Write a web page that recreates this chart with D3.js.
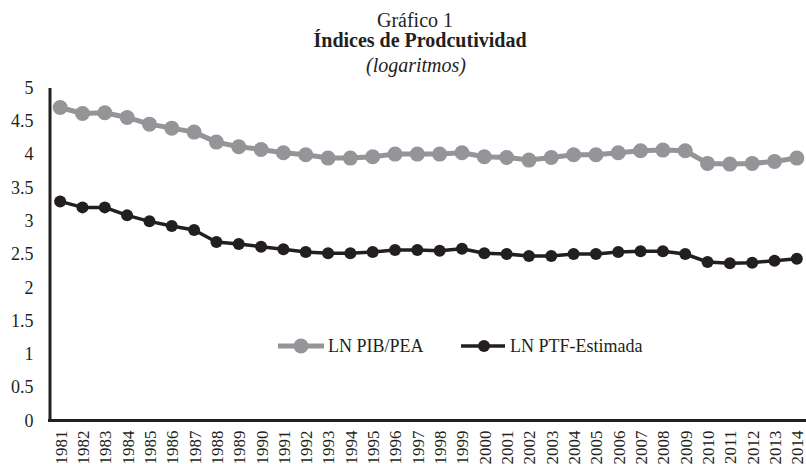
<!DOCTYPE html>
<html>
<head>
<meta charset="utf-8">
<script src="https://cdn.jsdelivr.net/npm/d3@7"></script>
<style>
  html, body { margin: 0; padding: 0; background: #fff; }
  svg { display: block; font-family: "Liberation Serif", "Times New Roman", serif; }
</style>
</head>
<body>
<svg id="chart" width="806" height="464"></svg>
<script>
const years = ["1981","1982","1983","1984","1985","1986","1987","1988","1989","1990","1991","1992","1993","1994","1995","1996","1997","1998","1999","2000","2001","2002","2003","2004","2005","2006","2007","2008","2009","2010","2011","2012","2013","2014"];
const lnPibPea = [4.70,4.61,4.62,4.55,4.45,4.39,4.33,4.18,4.11,4.07,4.02,3.99,3.94,3.94,3.96,4.00,4.00,4.00,4.02,3.96,3.95,3.91,3.95,3.99,3.99,4.02,4.05,4.06,4.05,3.86,3.85,3.86,3.89,3.94];
const lnPtf = [3.29,3.20,3.20,3.08,2.99,2.92,2.86,2.68,2.65,2.61,2.57,2.53,2.51,2.51,2.53,2.56,2.56,2.55,2.58,2.51,2.50,2.47,2.47,2.50,2.50,2.53,2.54,2.54,2.50,2.38,2.36,2.37,2.40,2.43];
const yTicks = [0,0.5,1,1.5,2,2.5,3,3.5,4,4.5,5];
const seriesNames = ["LN PIB/PEA","LN PTF-Estimada"];
const titles = ["Gráfico 1","Índices de Prodcutividad","(logaritmos)"];

const FONT = "Liberation Serif, Times New Roman, serif";
const svg = d3.select("#chart");
const x = d3.scalePoint().domain(years).range([49, 808]).padding(0.5);
const y = d3.scaleLinear().domain([0,5]).range([420.5, 87.5]);

const series = [
  {name: seriesNames[0], values: lnPibPea, color: "#939598", lw: 5, r: 7.5},
  {name: seriesNames[1], values: lnPtf, color: "#231f20", lw: 3.5, r: 6}
];

// Titles
svg.append("text").attr("x", 415).attr("y", 27).attr("text-anchor","middle")
  .attr("font-size", 20).attr("font-family", FONT).attr("fill","#231f20").text(titles[0]);
svg.append("text").attr("x", 420).attr("y", 47).attr("text-anchor","middle")
  .attr("font-size", 20).attr("font-family", FONT).attr("font-weight","bold").attr("fill","#231f20").text(titles[1]);
svg.append("text").attr("x", 416).attr("y", 72).attr("text-anchor","middle")
  .attr("font-size", 20).attr("font-family", FONT).attr("font-style","italic").attr("fill","#231f20").text(titles[2]);

// Y axis
const yAxis = d3.axisLeft(y).tickValues(yTicks).tickSize(0).tickPadding(16)
  .tickFormat(d => String(d));
const gy = svg.append("g").attr("transform","translate(49.5,0)").call(yAxis);
gy.attr("font-family", FONT);
gy.select(".domain").attr("stroke","#231f20").attr("stroke-width",3);
gy.selectAll("text").attr("font-size",18).attr("font-family", FONT).attr("fill","#231f20");

// X axis
const xAxis = d3.axisBottom(x).tickSize(0).tickPadding(0);
const gx = svg.append("g").attr("transform","translate(0,420.5)").call(xAxis);
gx.attr("font-family", FONT);
gx.select(".domain").attr("stroke","#231f20").attr("stroke-width",3).attr("d","M48,0H808");
gx.selectAll("text")
  .attr("font-size",17).attr("font-family", FONT).attr("fill","#231f20")
  .attr("transform","rotate(-90)")
  .attr("text-anchor","end")
  .attr("dy","0.35em")
  .attr("x",-10).attr("y",0);

// Lines and markers
const line = d3.line().x((d,i) => x(years[i])).y(d => y(d));
series.forEach(s => {
  svg.append("path").datum(s.values).attr("d", line)
    .attr("fill","none").attr("stroke", s.color).attr("stroke-width", s.lw).attr("stroke-linejoin","round");
  svg.append("g").selectAll("circle").data(s.values).join("circle")
    .attr("cx",(d,i) => x(years[i])).attr("cy", d => y(d)).attr("r", s.r).attr("fill", s.color);
});

// Legend
const legendItems = [
  {x0: 278, x1: 324, cx: 301, tx: 328},
  {x0: 461, x1: 505, cx: 484, tx: 510}
];
series.forEach((s, i) => {
  const L = legendItems[i];
  const g = svg.append("g");
  g.append("line").attr("x1", L.x0).attr("x2", L.x1).attr("y1", 346).attr("y2", 346)
    .attr("stroke", s.color).attr("stroke-width", s.lw);
  g.append("circle").attr("cx", L.cx).attr("cy", 346).attr("r", s.r).attr("fill", s.color);
  g.append("text").attr("x", L.tx).attr("y", 352).attr("font-size", 18).attr("font-family", FONT)
    .attr("fill","#231f20").text(s.name);
});
</script>
</body>
</html>
